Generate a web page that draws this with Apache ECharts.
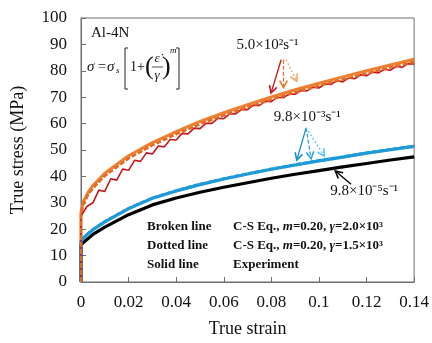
<!DOCTYPE html>
<html><head><meta charset="utf-8">
<script src="https://cdn.jsdelivr.net/npm/echarts@6/dist/echarts.min.js"></script>
<style>html,body{margin:0;padding:0;background:#fff}#c{width:432px;height:343px}</style>
</head><body><div id="c"></div>
<script>
// ---- data ----
const xTicks = [0, 0.02, 0.04, 0.06, 0.08, 0.1, 0.12, 0.14];
const yTicks = [0, 10, 20, 30, 40, 50, 60, 70, 80, 90, 100];

const strainModel = [0, 0, 0.001, 0.003, 0.005, 0.01, 0.02, 0.03, 0.04, 0.05, 0.06, 0.07, 0.08, 0.09, 0.10, 0.11, 0.12, 0.13, 0.14];
// 9.8e-5 s^-1
const blackExp    = [0, 14.0, 15.0, 16.5, 18.0, 20.8, 25.5, 29.2, 31.8, 34.0, 35.9, 37.6, 39.3, 40.8, 42.2, 43.6, 44.9, 46.2, 47.4];
// 9.8e-3 s^-1
const blueExp     = [0, 15.5, 16.6, 18.3, 19.8, 22.8, 27.8, 31.7, 34.5, 36.9, 39.0, 40.9, 42.7, 44.3, 45.9, 47.3, 48.8, 50.1, 51.4];
const blueBroken  = [0, 15.6, 16.8, 18.5, 20.0, 23.0, 28.0, 31.9, 34.7, 37.1, 39.2, 41.1, 42.9, 44.5, 46.1, 47.5, 49.0, 50.3, 51.6];
const blueDotted  = [0, 15.4, 16.5, 18.2, 19.7, 22.7, 27.7, 31.6, 34.4, 36.8, 38.9, 40.8, 42.6, 44.2, 45.8, 47.2, 48.7, 50.0, 51.3];
// 5.0e2 s^-1
const orangeDotted = [0, 26.5, 30.5, 34.0, 36.5, 41.2, 47.8, 52.8, 57.0, 60.8, 64.1, 67.2, 70.1, 72.8, 75.3, 77.7, 80.0, 82.2, 84.4];
const orangeBroken = [0, 25.5, 29.5, 33.0, 35.5, 40.2, 46.8, 51.8, 56.0, 59.8, 63.1, 66.2, 69.1, 71.8, 74.3, 76.7, 79.0, 81.2, 83.4];

const strainExp = [0, 0, 0.0025, 0.005, 0.0075, 0.01, 0.0125, 0.015, 0.0175, 0.02, 0.0225, 0.025, 0.0275, 0.03, 0.0325, 0.035, 0.0375, 0.04,
  0.0425, 0.045, 0.0475, 0.05, 0.0525, 0.055, 0.0575, 0.06, 0.0625, 0.065, 0.0675, 0.07, 0.0725, 0.075, 0.0775, 0.08,
  0.0825, 0.085, 0.0875, 0.09, 0.0925, 0.095, 0.0975, 0.10, 0.1025, 0.105, 0.1075, 0.11, 0.1125, 0.115, 0.1175, 0.12,
  0.1225, 0.125, 0.1275, 0.13, 0.1325, 0.135, 0.1375, 0.14];
const redExp = [0, 25.0, 28.6, 30.0, 34.8, 34.3, 39.1, 38.6, 42.8, 42.3, 46.1, 45.7, 48.9, 48.5, 51.5, 51.2, 54.0, 53.8,
  56.3, 56.1, 58.3, 58.1, 60.1, 60.1, 62.0, 61.9, 63.7, 63.7, 65.4, 65.3, 67.0, 66.9, 68.5, 68.3,
  70.0, 69.8, 71.2, 71.1, 72.6, 72.4, 73.8, 73.5, 75.0, 74.8, 76.3, 75.8, 77.3, 77.0, 78.5, 78.1,
  79.5, 79.2, 80.6, 80.2, 81.7, 81.3, 82.7, 82.6];

// annotation arrows (data coordinates)
const arrows = [
  {from: [0.0841, 84.2], to: [0.0799, 71.6], color: '#C8141E', dash: null},
  {from: [0.0851, 84.2], to: [0.0851, 73.6], color: '#E8762C', dash: [4, 2]},
  {from: [0.0862, 84.2], to: [0.0907, 76.0], color: '#F7A66A', dash: [2, 2]},
  {from: [0.0946, 58.4], to: [0.0907, 46.2], color: '#1B8FD0', dash: null},
  {from: [0.0946, 58.4], to: [0.0967, 46.7], color: '#2AA5E0', dash: [4, 2]},
  {from: [0.0946, 58.4], to: [0.1023, 47.7], color: '#5CC6EE', dash: [2, 2]},
  {from: [0.1135, 37.0], to: [0.1069, 42.0], color: '#000000', dash: null}
];
const rateLabels = [
  {pos: [0.0784, 89.8], text: '5.0×10²s⁻¹'},
  {pos: [0.0951, 62.6], text: '9.8×10⁻³s⁻¹'},
  {pos: [0.1190, 34.3], text: '9.8×10⁻⁵s⁻¹'}
];

const FONT = '"Liberation Serif","Times New Roman",serif';
function pairs(xs, ys) { return xs.map((x, i) => [x, ys[i]]); }

const chart = echarts.init(document.getElementById('c'), null, {renderer: 'canvas'});

function line(name, xs, ys, color, width, type, z) {
  return {
    name, type: 'line', data: pairs(xs, ys), showSymbol: false, symbol: 'none',
    lineStyle: {color, width, type}, z: z || 2, animation: false
  };
}

const option = {
  animation: false,
  grid: {left: 81, right: 17, top: 18, bottom: 60, show: true, borderColor: '#6e6e6e', borderWidth: 1},
  xAxis: {
    type: 'value', min: 0, max: 0.14, interval: 0.02,
    name: 'True strain', nameLocation: 'middle', nameGap: 38,
    nameTextStyle: {fontFamily: FONT, fontSize: 18, color: '#111'},
    axisLine: {lineStyle: {color: '#6e6e6e'}},
    axisTick: {inside: true, length: 5, lineStyle: {color: '#6e6e6e'}},
    axisLabel: {fontFamily: FONT, fontSize: 17, color: '#111', margin: 12,
      formatter: v => String(+v.toFixed(2))},
    splitLine: {show: false}
  },
  yAxis: {
    type: 'value', min: 0, max: 100, interval: 10,
    name: 'True stress (MPa)', nameLocation: 'middle', nameGap: 54,
    nameTextStyle: {fontFamily: FONT, fontSize: 18, color: '#111'},
    axisLine: {lineStyle: {color: '#6e6e6e'}},
    axisTick: {inside: true, length: 5, lineStyle: {color: '#6e6e6e'}},
    axisLabel: {fontFamily: FONT, fontSize: 17, color: '#111', margin: 14},
    splitLine: {show: false}
  },
  series: [
    line('black', strainModel, blackExp, '#000000', 3.2, 'solid', 3),
    line('blueDotted', strainModel, blueDotted, '#5CC6EE', 2.5, [2, 2], 2),
    line('blueBroken', strainModel, blueBroken, '#2AA5E0', 2.5, [5, 2], 2),
    line('blueExp', strainModel, blueExp, '#1E9AD8', 3.2, 'solid', 3),
    line('orangeDotted', strainModel, orangeDotted, '#EE7F30', 3, 'solid', 2),
    line('redExp', strainExp, redExp, '#C8141E', 1.6, 'solid', 3),
    line('orangeBroken', strainModel, orangeBroken, '#E36A22', 2.5, [5, 2], 4)
  ]
};
chart.setOption(option);

// ---- annotations ----
const g = [];
function px(p) { return chart.convertToPixel({gridIndex: 0}, p); }
arrows.forEach(a => {
  const p0 = px(a.from), p1 = px(a.to);
  const ang = Math.atan2(p1[1] - p0[1], p1[0] - p0[0]);
  const L = 8, spread = 0.5;
  const h1 = [p1[0] - L * Math.cos(ang - spread), p1[1] - L * Math.sin(ang - spread)];
  const h2 = [p1[0] - L * Math.cos(ang + spread), p1[1] - L * Math.sin(ang + spread)];
  const st = {stroke: a.color, lineWidth: 1.3, lineDash: a.dash || null};
  g.push({type: 'line', shape: {x1: p0[0], y1: p0[1], x2: p1[0], y2: p1[1]}, style: st, z: 10});
  g.push({type: 'polyline', shape: {points: [h1, p1, h2]}, style: {stroke: a.color, lineWidth: 1.6, fill: null}, z: 10});
});
rateLabels.forEach(r => {
  const p = px(r.pos);
  g.push({type: 'text', x: p[0], y: p[1], z: 11,
    style: {text: r.text, fontFamily: FONT, fontSize: 15, fill: '#111', align: 'center', verticalAlign: 'middle'}});
});
// material label and formula
function txt(x, y, text, size, italic, align) {
  g.push({type: 'text', x, y, z: 11, style: {text, fontFamily: FONT, fontSize: size, fontStyle: italic ? 'italic' : 'normal',
    fill: '#111', align: align || 'left', verticalAlign: 'middle'}});
}
txt(91, 33, 'Al-4N', 15, false);
txt(87, 67, 'σ', 15, true);
txt(98, 67, '=', 14, false);
txt(107, 67, 'σ', 15, true);
txt(116, 71, 's', 9, true);
g.push({type: 'polyline', shape: {points: [[128, 48], [125, 48], [125, 89], [128, 89]]}, style: {stroke: '#222', lineWidth: 1, fill: null}, z: 11});
g.push({type: 'polyline', shape: {points: [[176, 48], [179, 48], [179, 89], [176, 89]]}, style: {stroke: '#222', lineWidth: 1, fill: null}, z: 11});
txt(130, 67, '1+', 14, false);
txt(145, 67, '(', 26, false);
txt(157, 59, 'ε̇', 13, true, 'center');
g.push({type: 'line', shape: {x1: 152, y1: 67, x2: 163, y2: 67}, style: {stroke: '#222', lineWidth: 0.8}, z: 11});
txt(157, 76, 'γ', 13, true, 'center');
txt(162, 67, ')', 26, false);
txt(170, 51, 'm', 9, true);

// legend text
function rich(x, y, text) {
  g.push({type: 'text', x, y, z: 11, style: {text, fontFamily: FONT, fontSize: 13, fontWeight: 'bold', fill: '#111',
    verticalAlign: 'middle', rich: {i: {fontFamily: FONT, fontSize: 13, fontStyle: 'italic', fontWeight: 'bold'}}}});
}
rich(147, 227, 'Broken line');
rich(147, 246, 'Dotted line');
rich(147, 265, 'Solid line');
rich(233, 227, 'C-S Eq., {i|m}=0.20, {i|γ}=2.0×10³');
rich(233, 246, 'C-S Eq., {i|m}=0.20, {i|γ}=1.5×10³');
rich(233, 265, 'Experiment');

chart.setOption({graphic: g});
</script></body></html>
